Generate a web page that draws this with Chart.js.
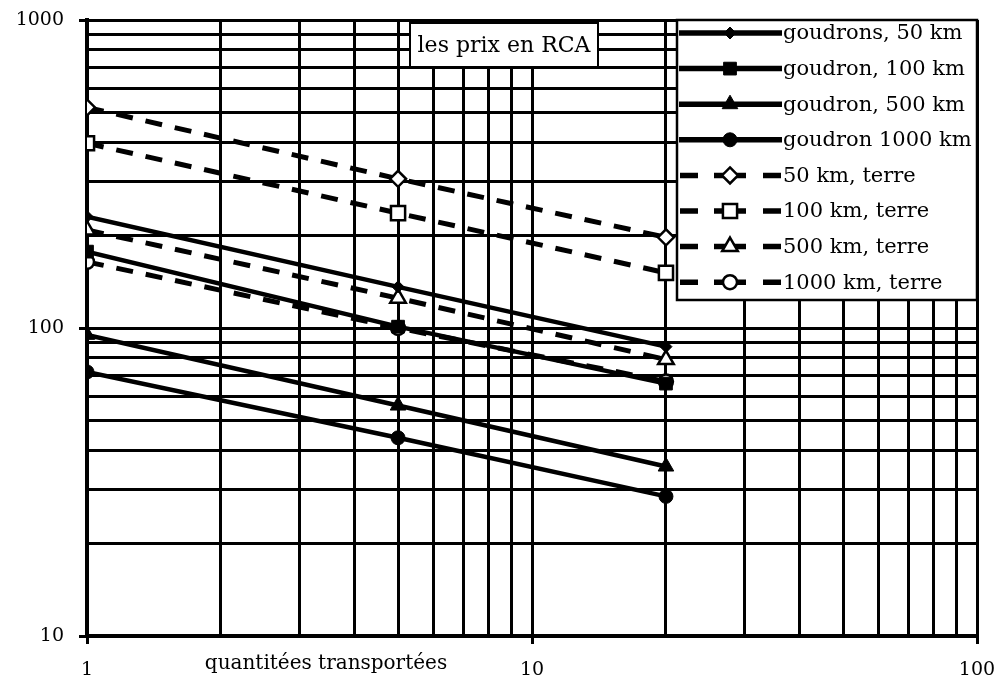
<!DOCTYPE html>
<html lang="fr">
<head>
    <meta charset="UTF-8">
    <title>les prix en RCA</title>
    <script src="https://cdn.jsdelivr.net/npm/chart.js"></script>
    <style>
        body {
            margin: 0;
            background-color: white;
        }
        canvas {
            display: block;
            background-color: white;
        }
    </style>
</head>
<body>
    <canvas id="myChart" width="997" height="684"></canvas>

    <script>
        // data
        const quantities = [1, 5, 20];

        const goudron50 = [230, 136, 87];
        const goudron100 = [177, 101, 66];
        const goudron500 = [95, 56, 35.5];
        const goudron1000 = [72, 44, 28.4];
        const terre50 = [520, 305, 197];
        const terre100 = [398, 236, 151];
        const terre500 = [208, 125, 79];
        const terre1000 = [164, 100, 67];

        const seriesLabels = [
            'goudrons, 50 km', 'goudron, 100 km', 'goudron, 500 km', 'goudron 1000 km',
            '50 km, terre', '100 km, terre', '500 km, terre', '1000 km, terre'
        ];

        const xDecades = [1, 10, 100];
        const yDecades = [10, 100, 1000];
        const noteText = 'les prix en RCA';
        const xTitle = 'quantitées transportées';

        Chart.defaults.font.family = 'DejaVu Serif';
        Chart.defaults.color = '#000';

        function toPoints(values) {
            return quantities.map((q, i) => ({ x: q, y: values[i] }));
        }

        // every 1..9 multiple in each decade, for the grid
        function gridValues(decades) {
            const vals = [];
            for (let i = 0; i < decades.length - 1; i++) {
                for (let m = 1; m < 10; m++) vals.push(decades[i] * m);
            }
            vals.push(decades[decades.length - 1]);
            return vals;
        }

        function makeSet(label, values, style, radius, dashed) {
            return {
                label: label,
                data: toPoints(values),
                showLine: true,
                borderColor: '#000',
                borderWidth: dashed ? 5 : 4.5,
                borderDash: dashed ? [17, 13] : [],
                pointStyle: style,
                pointRadius: radius,
                pointBackgroundColor: dashed ? '#fff' : '#000',
                pointBorderColor: '#000',
                pointBorderWidth: dashed ? 2.5 : 1,
                tension: 0
            };
        }

        const datasets = [
            makeSet(seriesLabels[0], goudron50, 'rectRot', 6, false),
            makeSet(seriesLabels[1], goudron100, 'rect', 9, false),
            makeSet(seriesLabels[2], goudron500, 'triangle', 9, false),
            makeSet(seriesLabels[3], goudron1000, 'circle', 7, false),
            makeSet(seriesLabels[4], terre50, 'rectRot', 8, true),
            makeSet(seriesLabels[5], terre100, 'rect', 10, true),
            makeSet(seriesLabels[6], terre500, 'triangle', 9, true),
            makeSet(seriesLabels[7], terre1000, 'circle', 7, true)
        ];

        function drawMarker(ctx, style, x, y, r) {
            ctx.beginPath();
            if (style === 'circle') {
                ctx.arc(x, y, r, 0, Math.PI * 2);
            } else if (style === 'rect') {
                const s = r * Math.SQRT1_2;
                ctx.rect(x - s, y - s, 2 * s, 2 * s);
            } else if (style === 'rectRot') {
                ctx.moveTo(x, y - r);
                ctx.lineTo(x + r, y);
                ctx.lineTo(x, y + r);
                ctx.lineTo(x - r, y);
                ctx.closePath();
            } else if (style === 'triangle') {
                const h = r * 1.5;
                ctx.moveTo(x, y - r);
                ctx.lineTo(x + r * 0.866, y + h - r);
                ctx.lineTo(x - r * 0.866, y + h - r);
                ctx.closePath();
            }
            ctx.fill();
            ctx.stroke();
        }

        const overlayPlugin = {
            id: 'overlay',
            afterDraw(chart) {
                const ctx = chart.ctx;
                const area = chart.chartArea;
                ctx.save();

                // note box
                ctx.fillStyle = '#fff';
                ctx.strokeStyle = '#000';
                ctx.lineWidth = 2;
                ctx.fillRect(410, 23, 188, 44);
                ctx.strokeRect(410, 23, 188, 44);
                ctx.fillStyle = '#000';
                ctx.font = '22px "DejaVu Serif"';
                ctx.textAlign = 'center';
                ctx.textBaseline = 'middle';
                ctx.fillText(noteText, 504, 46);

                // x axis title
                ctx.font = '20px "DejaVu Serif"';
                ctx.fillText(xTitle, 326, 664);

                // legend
                const lx = 677, ly = area.top, lw = area.right - 677, lh = 280;
                ctx.fillStyle = '#fff';
                ctx.fillRect(lx, ly, lw, lh);
                ctx.lineWidth = 2.5;
                ctx.strokeRect(lx, ly, lw, lh);
                ctx.font = '21px "DejaVu Serif"';
                ctx.textAlign = 'left';
                chart.data.datasets.forEach((ds, i) => {
                    const y = ly + 13 + i * 35.6;
                    const dashed = ds.borderDash.length > 0;
                    ctx.strokeStyle = '#000';
                    ctx.lineWidth = 5.5;
                    ctx.beginPath();
                    if (dashed) {
                        [[680, 698], [714, 746], [763, 781]].forEach(seg => {
                            ctx.moveTo(seg[0], y);
                            ctx.lineTo(seg[1], y);
                        });
                    } else {
                        ctx.moveTo(679, y);
                        ctx.lineTo(782, y);
                    }
                    ctx.stroke();
                    ctx.fillStyle = ds.pointBackgroundColor;
                    ctx.lineWidth = ds.pointBorderWidth;
                    drawMarker(ctx, ds.pointStyle, 730, y, ds.pointRadius);
                    ctx.fillStyle = '#000';
                    ctx.fillText(ds.label, 783, y + 1);
                });
                ctx.restore();
            }
        };

        const xGrid = gridValues(xDecades);
        const yGrid = gridValues(yDecades);

        const config = {
            type: 'scatter',
            data: { datasets: datasets },
            plugins: [overlayPlugin],
            options: {
                responsive: false,
                devicePixelRatio: 1,
                animation: false,
                layout: { padding: 0 },
                plugins: {
                    legend: { display: false },
                    tooltip: { enabled: false }
                },
                scales: {
                    x: {
                        type: 'logarithmic',
                        min: xDecades[0],
                        max: xDecades[xDecades.length - 1],
                        afterBuildTicks: (scale) => {
                            scale.ticks = xGrid.map(v => ({ value: v }));
                        },
                        afterFit: (scale) => {
                            scale.height = 48;
                            scale.paddingLeft = 0;
                            scale.paddingRight = 20;
                        },
                        ticks: {
                            autoSkip: false,
                            maxRotation: 0,
                            padding: 15,
                            font: { size: 19 },
                            callback: (v) => xDecades.includes(v) ? String(v) : ''
                        },
                        grid: {
                            color: '#000',
                            lineWidth: 3,
                            tickLength: 8,
                            tickColor: (ctx) => ctx.tick && xDecades.includes(ctx.tick.value) ? '#000' : 'rgba(0,0,0,0)'
                        },
                        border: { color: '#000', width: 4 }
                    },
                    y: {
                        type: 'logarithmic',
                        min: yDecades[0],
                        max: yDecades[yDecades.length - 1],
                        afterBuildTicks: (scale) => {
                            scale.ticks = yGrid.map(v => ({ value: v }));
                        },
                        afterFit: (scale) => {
                            scale.width = 87;
                            scale.paddingTop = 20;
                            scale.paddingBottom = 0;
                        },
                        ticks: {
                            autoSkip: false,
                            padding: 15,
                            font: { size: 19 },
                            callback: (v) => yDecades.includes(v) ? String(v) : ''
                        },
                        grid: {
                            color: '#000',
                            lineWidth: 3,
                            tickLength: 8,
                            tickColor: (ctx) => ctx.tick && yDecades.includes(ctx.tick.value) ? '#000' : 'rgba(0,0,0,0)'
                        },
                        border: { color: '#000', width: 4 }
                    }
                }
            }
        };

        new Chart(document.getElementById('myChart'), config);
    </script>
</body>
</html>
